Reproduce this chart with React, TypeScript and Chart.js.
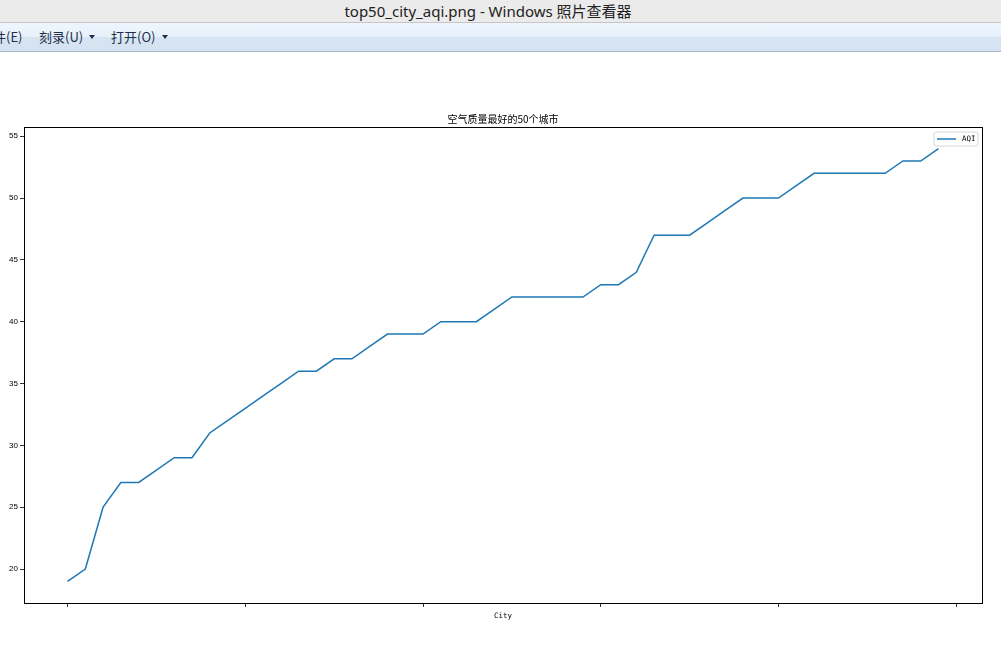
import React, { useEffect, useRef } from 'react';
import { Chart, registerables } from 'chart.js';

Chart.register(...registerables);

// ---- data ----
const CITY_INDEX = [
  0, 1, 2, 3, 4, 5, 6, 7, 8, 9,
  10, 11, 12, 13, 14, 15, 16, 17, 18, 19,
  20, 21, 22, 23, 24, 25, 26, 27, 28, 29,
  30, 31, 32, 33, 34, 35, 36, 37, 38, 39,
  40, 41, 42, 43, 44, 45, 46, 47, 48, 49,
];
const AQI = [
  19, 20, 25, 27, 27, 28, 29, 29, 31, 32,
  33, 34, 35, 36, 36, 37, 37, 38, 39, 39,
  39, 40, 40, 40, 41, 42, 42, 42, 42, 42,
  43, 43, 44, 47, 47, 47, 48, 49, 50, 50,
  50, 51, 52, 52, 52, 52, 52, 53, 53, 54,
];
const X_TICKS = [0, 10, 20, 30, 40, 50];
const Y_TICKS = [20, 25, 30, 35, 40, 45, 50, 55];
const X_MIN = -2.45;
const X_MAX = 51.45;
const Y_MIN = 17.25;
const Y_MAX = 55.75;
const SERIES_LABEL = 'AQI';
const CHART_TITLE = '空气质量最好的50个城市';
const X_TITLE = 'City';

const LINE_COLOR = '#1f77b4';
const MONO = '"DejaVu Sans Mono", monospace';

const framePlugin = {
  id: 'frameAndLegend',
  afterDatasetsDraw(chart: any) {
    const { ctx, chartArea } = chart;
    const { left, right, top, bottom } = chartArea;
    ctx.save();
    // axes frame
    ctx.strokeStyle = '#000';
    ctx.lineWidth = 1;
    ctx.strokeRect(Math.round(left) + 0.5, Math.round(top) + 0.5, Math.round(right - left), Math.round(bottom - top));
    // legend box (matplotlib style, upper right)
    const bw = 44;
    const bh = 14;
    const bx = right - 4 - bw;
    const by = top + 5;
    ctx.beginPath();
    const r = 2;
    ctx.moveTo(bx + r, by);
    ctx.lineTo(bx + bw - r, by);
    ctx.arcTo(bx + bw, by, bx + bw, by + r, r);
    ctx.lineTo(bx + bw, by + bh - r);
    ctx.arcTo(bx + bw, by + bh, bx + bw - r, by + bh, r);
    ctx.lineTo(bx + r, by + bh);
    ctx.arcTo(bx, by + bh, bx, by + bh - r, r);
    ctx.lineTo(bx, by + r);
    ctx.arcTo(bx, by, bx + r, by, r);
    ctx.closePath();
    ctx.fillStyle = 'rgba(255,255,255,0.8)';
    ctx.fill();
    ctx.strokeStyle = '#d6d6d6';
    ctx.stroke();
    const ly = by + 7;
    ctx.beginPath();
    ctx.moveTo(bx + 3, ly);
    ctx.lineTo(bx + 22, ly);
    ctx.strokeStyle = chart.data.datasets[0].borderColor;
    ctx.lineWidth = 1.5;
    ctx.stroke();
    ctx.fillStyle = '#000';
    ctx.font = `7.5px ${MONO}`;
    ctx.textAlign = 'left';
    ctx.textBaseline = 'middle';
    ctx.fillText(chart.data.datasets[0].label, bx + 28, ly + 0.5);
    ctx.restore();
  },
};

function AqiChart() {
  const ref = useRef<HTMLCanvasElement | null>(null);
  useEffect(() => {
    if (!ref.current) return;
    const chart = new Chart(ref.current, {
      type: 'line',
      data: {
        datasets: [
          {
            label: SERIES_LABEL,
            data: CITY_INDEX.map((x, i) => ({ x, y: AQI[i] })),
            borderColor: LINE_COLOR,
            backgroundColor: LINE_COLOR,
            borderWidth: 1.5,
            pointRadius: 0,
            tension: 0,
            fill: false,
          },
        ],
      },
      options: {
        animation: false,
        responsive: false,
        devicePixelRatio: 1,
        layout: { padding: { left: 0, right: 19, top: 0, bottom: 0 } },
        plugins: {
          legend: { display: false },
          tooltip: { enabled: false },
          title: {
            display: true,
            fullSize: false,
            text: CHART_TITLE,
            color: '#000',
            font: { size: 10, family: '"Noto Sans CJK SC", sans-serif', weight: 'normal' },
            padding: { top: 61, bottom: 2 },
          },
        },
        scales: {
          x: {
            type: 'linear',
            min: X_MIN,
            max: X_MAX,
            afterBuildTicks: (s: any) => {
              s.ticks = X_TICKS.map((v) => ({ value: v }));
            },
            afterFit: (s: any) => {
              s.height = 56;
            },
            ticks: { callback: () => '', autoSkip: false, maxRotation: 0 },
            grid: { drawOnChartArea: false, drawTicks: true, tickLength: 4, color: '#333', lineWidth: 1 },
            border: { display: false },
            title: {
              display: true,
              text: X_TITLE,
              color: '#000',
              font: { size: 7.5, family: MONO },
              padding: { top: 0, bottom: 38 },
            },
          },
          y: {
            type: 'linear',
            min: Y_MIN,
            max: Y_MAX,
            afterBuildTicks: (s: any) => {
              s.ticks = Y_TICKS.map((v) => ({ value: v }));
            },
            afterFit: (s: any) => {
              s.width = 24;
            },
            ticks: {
              color: '#000',
              padding: 2,
              font: { size: 8, family: '"Liberation Sans", Arial, sans-serif' },
              callback: (v: any) => String(v),
            },
            grid: { drawOnChartArea: false, drawTicks: true, tickLength: 4, color: '#333', lineWidth: 1 },
            border: { display: false },
          },
        },
      },
      plugins: [framePlugin],
    } as any);
    return () => chart.destroy();
  }, []);
  return (
    <canvas
      ref={ref}
      width={1001}
      height={607}
      style={{ position: 'absolute', left: 0, top: 52, width: 1001, height: 607, display: 'block' }}
    />
  );
}

const menuFont = '"Noto Sans CJK SC", "Noto Sans", sans-serif';

function Arrow({ left }: { left: number }) {
  return (
    <div
      style={{
        position: 'absolute',
        left,
        top: 12,
        width: 0,
        height: 0,
        borderLeft: '3.5px solid transparent',
        borderRight: '3.5px solid transparent',
        borderTop: '4px solid #1e2f4a',
      }}
    />
  );
}

export default function App() {
  const menuItem = (text: string, left: number) => (
    <span
      style={{
        position: 'absolute',
        left,
        top: 4,
        fontFamily: menuFont,
        fontSize: 13,
        lineHeight: '20px',
        color: '#1e2f4a',
        whiteSpace: 'nowrap',
      }}
    >
      {text}
    </span>
  );
  return (
    <div
      style={{
        position: 'fixed',
        left: 0,
        top: 0,
        width: 1001,
        height: 659,
        overflow: 'hidden',
        background: '#fff',
      }}
    >
      <div
        style={{
          position: 'absolute',
          left: 0,
          top: 0,
          width: 1001,
          height: 22,
          background: '#ebebeb',
          borderBottom: '1px solid #c6c6c6',
        }}
      >
        <span
          style={{
            position: 'absolute',
            left: 488,
            top: 0,
            transform: 'translateX(-50%)',
            fontFamily: '"Noto Sans", "Noto Sans CJK SC", sans-serif',
            fontSize: 15,
            lineHeight: '22px',
            color: '#222',
            whiteSpace: 'nowrap',
          }}
        >
          top50_city_aqi.png - Windows 照片查看器
        </span>
      </div>
      <div
        style={{
          position: 'absolute',
          left: 0,
          top: 23,
          width: 1001,
          height: 28,
          background: 'linear-gradient(to bottom, #eef5fd 0%, #e8f1fb 48%, #d7e5f3 50%, #d4e2f1 100%)',
          borderBottom: '1px solid #a9b8ca',
        }}
      >
        {menuItem('文件(E)', -20)}
        {menuItem('刻录(U)', 39)}
        <Arrow left={89} />
        {menuItem('打开(O)', 111)}
        <Arrow left={162} />
      </div>
      <AqiChart />
    </div>
  );
}
